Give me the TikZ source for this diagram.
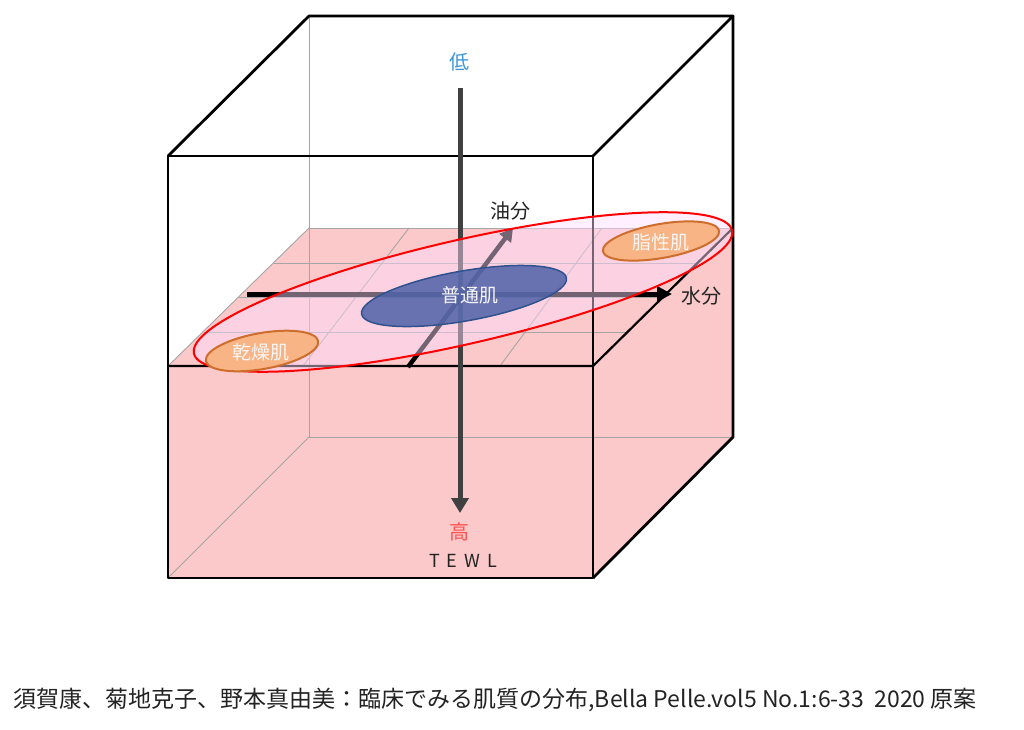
\documentclass[tikz,border=0pt]{standalone}
\usepackage{fontspec}
\setmainfont{Noto Sans CJK JP}
\usetikzlibrary{arrows.meta}
\definecolor{boxpink}{RGB}{251,201,201}
\definecolor{gridgray}{RGB}{165,165,165}
\definecolor{spreadpink}{RGB}{255,220,255}
\definecolor{normalblue}{RGB}{80,98,168}
\definecolor{normalline}{RGB}{47,82,143}
\definecolor{skinorange}{RGB}{248,180,132}
\definecolor{skinline}{RGB}{205,110,45}
\definecolor{lowblue}{RGB}{60,150,215}
\definecolor{highred}{RGB}{255,80,80}
\definecolor{axisgray}{RGB}{64,64,64}
\definecolor{textgray}{RGB}{35,35,35}
\tikzset{
  edge/.style={black,line width=2.8pt,line join=round},
  hidden/.style={gridgray,line width=0.9pt},
  axis/.style={line width=5pt,-{Triangle[length=15pt,width=17pt]}},
  skin/.style={font=\fontsize{19}{19}\selectfont,text=white!93!gray},
  axislabel/.style={font=\fontsize{20}{20}\selectfont,text=textgray},
}
\begin{document}
\begin{tikzpicture}[x=1pt,y=-1pt]
\useasboundingbox (0,0) rectangle (1024,729);

% cube corners
\coordinate (f1) at (168,156);
\coordinate (f2) at (593,156);
\coordinate (f3) at (593,578);
\coordinate (f4) at (168,578);
\coordinate (b1) at (309,16);
\coordinate (b2) at (733,16);
\coordinate (b3) at (733,437);
\coordinate (b4) at (309,437);
% slice plane
\coordinate (p1) at (168,366);
\coordinate (p2) at (593,366);
\coordinate (p3) at (733,228);
\coordinate (p4) at (309,228);

\fill[boxpink] (p1) -- (p4) -- (p3) -- (b3) -- (f3) -- (f4) -- cycle;

% grid on the plane
\draw[hidden] (274,263) -- (697,263);
\draw[hidden] (239,297) -- (662,297);
\draw[hidden] (204,332) -- (627,332);
\draw[hidden] (409,228) -- (303,366);
\draw[hidden] (602,228) -- (500,366);
\draw[hidden] (p4) -- (p3);
\draw[hidden] (p4) -- (p1);

% hidden edges
\draw[hidden] (b1) -- (b4) -- (b3);
\draw[hidden] (b4) -- (f4);

% visible edges
\draw[edge] (f1) rectangle (f3);
\draw[edge] (f1) -- (b1) -- (b2) -- (f2);
\draw[edge] (b2) -- (b3) -- (f3);
\draw[edge,line width=2.2pt] (p1) -- (p2) -- (p3);

% axes
\coordinate (tewl-top) at (460,88);
\coordinate (tewl-end) at (460,513);
\coordinate (water-start) at (247,294);
\coordinate (water-end) at (672,294);
\coordinate (oil-start) at (408,367);
\coordinate (oil-end) at (513,228);
\draw[axis,axisgray] (tewl-top) -- (tewl-end);
\draw[axis,black,-{Triangle[length=15pt,width=15pt]}] (water-start) -- (water-end);
\draw[axis,black,line width=4.5pt,-{Triangle[length=13pt,width=14pt]}] (oil-start) -- (oil-end);

% skin type spread
\draw[red,line width=2pt,fill=spreadpink,fill opacity=0.45]
  (463,292) ellipse [x radius=276, y radius=52, rotate=12.9];
\draw[normalline,line width=1.5pt,fill=normalblue,fill opacity=0.85]
  (464,296) ellipse [x radius=104, y radius=25, rotate=10];
\draw[skinline,line width=2pt,fill=skinorange]
  (262,351) ellipse [x radius=57, y radius=18, rotate=10];
\draw[skinline,line width=2pt,fill=skinorange]
  (661,241) ellipse [x radius=59, y radius=17, rotate=10];

\node[skin] (normal) at (470,295) {普通肌};
\node[skin] (dry) at (261,352) {乾燥肌};
\node[skin] (oily) at (661,242) {脂性肌};

% labels
\node[axislabel,text=lowblue] (low) at (459,62) {低};
\node[axislabel,text=highred] (high) at (459,532) {高};
\node[font=\fontsize{18}{18}\selectfont,text=textgray] (tewl) at (463,561)
  {T\hspace{7pt}E\hspace{7pt}W\hspace{7pt}L};
\node[axislabel] (oil) at (510,211) {油分};
\node[axislabel] (water) at (701,296) {水分};

\node[anchor=west,font=\fontsize{23}{23}\selectfont,text=textgray] (source) at (10,700)
  {須賀康、菊地克子、野本真由美：臨床でみる肌質の分布,Bella Pelle.vol5 No.1:6-33\ \ 2020 原案};
\end{tikzpicture}
\end{document}
